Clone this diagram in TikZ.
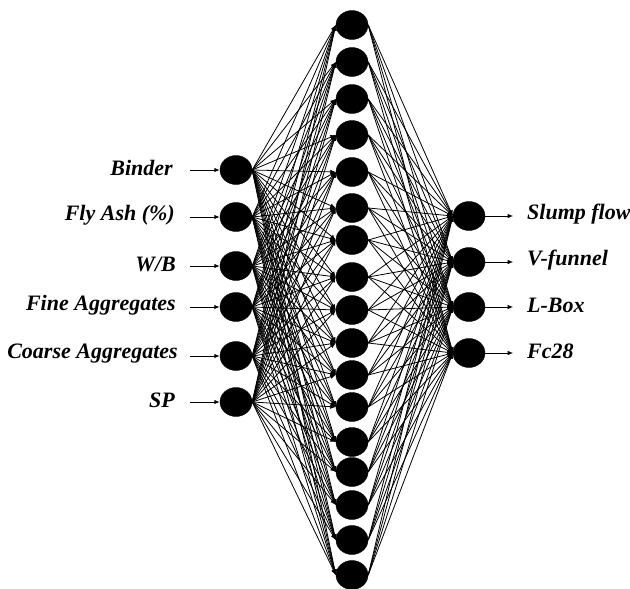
\documentclass[tikz,border=0pt]{standalone}
\usepackage{fontspec}
\setmainfont{Liberation Serif}
\usetikzlibrary{arrows.meta,shapes.geometric}
\begin{document}
\begin{tikzpicture}[x=1pt,y=-1pt,
  neuron/.style={ellipse,fill=black,draw=black,minimum width=32pt,minimum height=29pt,inner sep=0pt},
  conn/.style={line width=0.8pt,-{Latex[length=5.5pt,width=4.5pt]}},
  io/.style={line width=1pt,-{Latex[length=5.5pt,width=4.5pt]}},
  lab/.style={font=\fontsize{22}{24}\selectfont\bfseries\itshape,inner sep=0pt}]
\useasboundingbox (0,0) rectangle (630,589);
% input nodes
\foreach \i/\y in {1/170,2/217,3/266,4/307,5/356,6/402}
  \node[neuron] (in\i) at (236,\y) {};
% hidden nodes
\foreach \i/\y in {1/25,2/62,3/99,4/135,5/172,6/208,7/240,8/277,9/310,10/343,11/375,12/407,13/442,14/472,15/505,16/540,17/575}
  \node[neuron] (h\i) at (352,\y) {};
% output nodes
\foreach \i/\y in {1/216,2/262,3/307,4/353}
  \node[neuron] (out\i) at (469,\y) {};
% connections
\foreach \i in {1,...,6}
  \foreach \j in {1,...,17}
    \draw[conn] (in\i.east) -- (h\j.west);
\foreach \j in {1,...,17}
  \foreach \k in {1,...,4}
    \draw[conn] (h\j.east) -- (out\k.west);
% input labels
\node[lab,anchor=east] (l1) at (173,168) {Binder};
\node[lab,anchor=east] (l2) at (175,215) {Fly Ash (\%)};
\node[lab,anchor=east] (l3) at (176,264) {W/B};
\node[lab,anchor=east] (l4) at (176,305) {Fine Aggregates};
\node[lab,anchor=east] (l5) at (178,354) {Coarse Aggregates};
\node[lab,anchor=east] (l6) at (175,400) {SP};
\foreach \i in {1,...,6}
  \draw[io] (in\i.west) ++(-30,0) coordinate (a\i) -- (in\i.west);
% output labels
\node[lab,anchor=west] (r1) at (527,214) {Slump flow};
\node[lab,anchor=west] (r2) at (527,260) {V-funnel};
\node[lab,anchor=west] (r3) at (527,305) {L-Box};
\node[lab,anchor=west] (r4) at (527,351) {Fc28};
\foreach \k in {1,...,4}
  \draw[io] (out\k.east) -- ++(28,0) coordinate (e\k);
\end{tikzpicture}
\end{document}
